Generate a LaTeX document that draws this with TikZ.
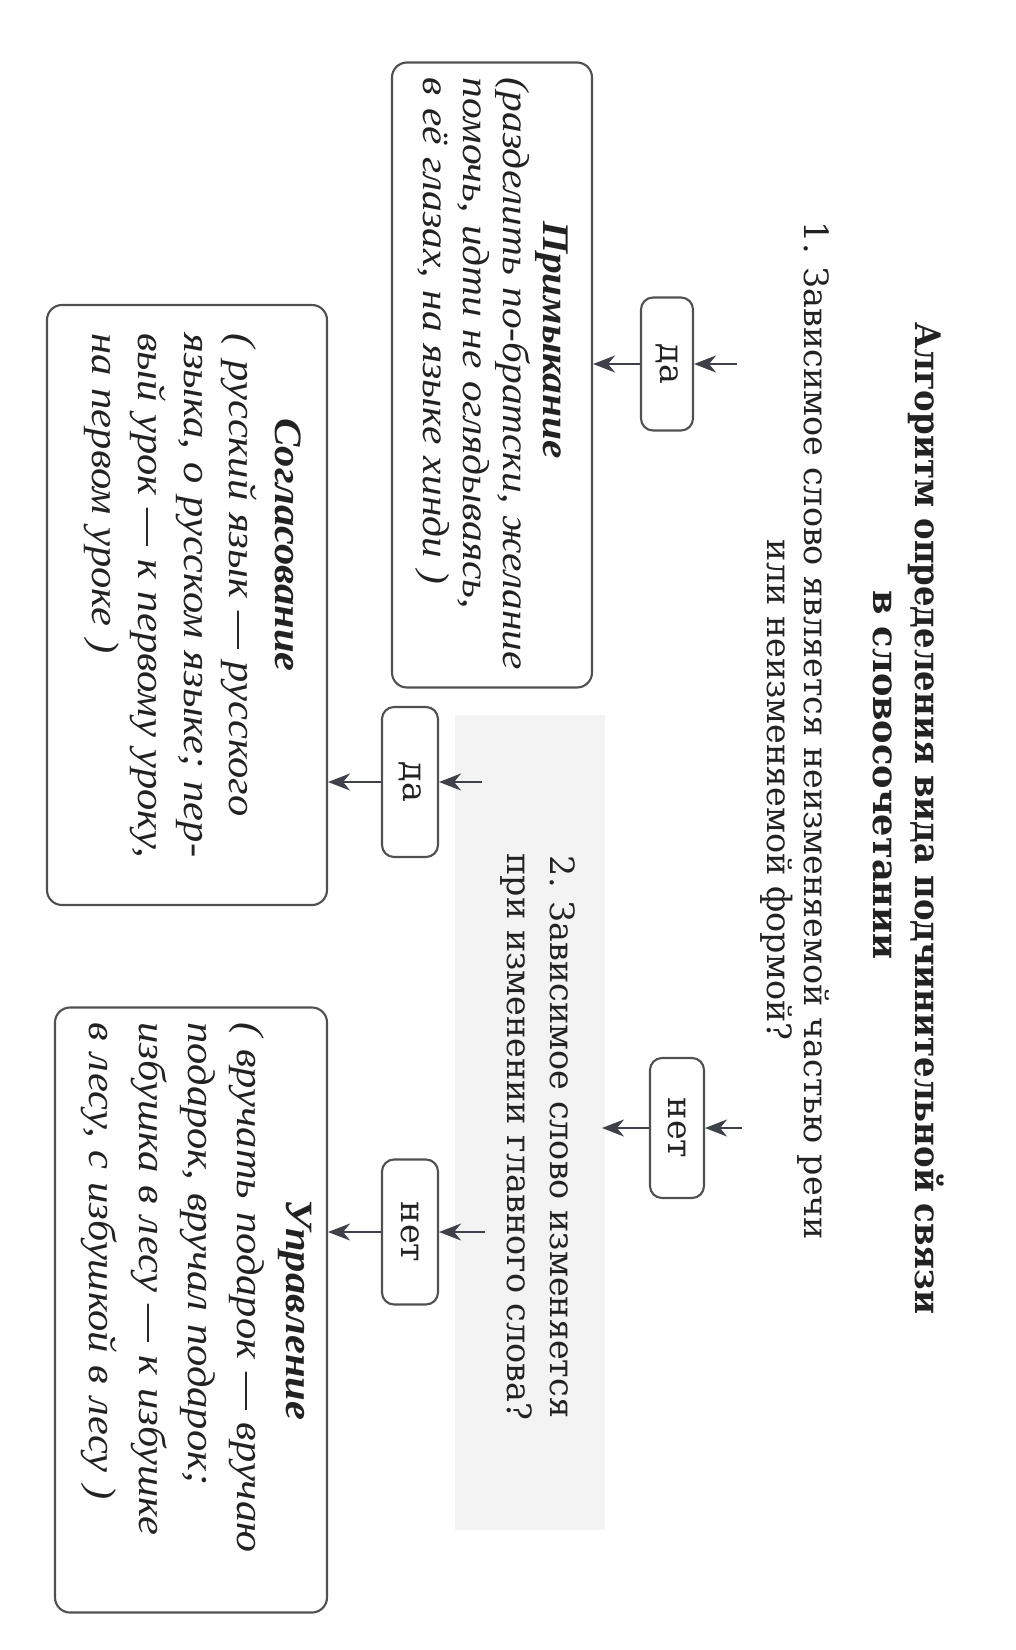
\documentclass[tikz,border=0pt]{standalone}
\usepackage{fontspec}
\setmainfont{DejaVu Serif}
\newfontfamily\ttlfont[FakeStretch=0.92]{DejaVu Serif}
\newfontfamily\exfont[FakeStretch=1.1]{Liberation Serif}
\usetikzlibrary{arrows.meta}
\definecolor{ink}{HTML}{222222}
\definecolor{wire}{HTML}{3E404A}
\definecolor{frame}{HTML}{505050}
\definecolor{haze}{HTML}{F3F3F3}
\newcommand{\exline}[1]{\hbox to\linewidth{#1}}
\newcommand{\exlast}[1]{\hbox to\linewidth{#1\hfil}}
\newcommand{\extitle}[2][0mm]{\hbox to\linewidth{\hfil\bfseries #2\hspace*{#1}\hfil}}
\tikzset{
  ttl/.style={text=ink, font=\fontsize{10}{12}\selectfont\bfseries, inner sep=0pt, rotate=-90},
  qtext/.style={text=ink, font=\fontsize{9.5}{11}\selectfont, inner sep=0pt, rotate=-90},
  ans/.style={draw=frame, line width=0.6pt, rounded corners=1.2mm, rotate=-90, text=ink,
    font=\fontsize{9.5}{11}\selectfont, inner sep=0pt},
  exbox/.style={draw=frame, line width=0.6pt, rounded corners=1.5mm, rotate=-90, text=ink,
    inner sep=0pt},
  arr/.style={draw=wire, line width=0.6pt, -{Stealth[length=2.2mm,width=1.7mm,inset=0.7mm]}},
}

\begin{document}
\begin{tikzpicture}[x=0.1mm, y=-0.1mm]
  \useasboundingbox[fill=white] (0,0) rectangle (1015,1650);
  \fill[haze] (455,715) rectangle (605,1530);

  % title and questions
  \node[ttl, font=\ttlfont\fontsize{10}{12}\selectfont\bfseries] (title1) at (926,818)
    {Алгоритм определения вида подчинительной связи};
  \node[ttl] (title2) at (883,775) {в словосочетании};
  \node[qtext] (q1a) at (813,731) {1. Зависимое слово является неизменяемой частью речи};
  \node[qtext] (q1b) at (777,790) {или неизменяемой формой?};
  \node[qtext] (q2a) at (563,1137) {2. Зависимое слово изменяется};
  \node[qtext] (q2b) at (516,1137) {при изменении главного слова?};

  % answers
  \node[ans, minimum width=13.3mm, minimum height=5.2mm] (da1) at (667,364) {да};
  \node[ans, minimum width=14mm, minimum height=5.4mm] (net1) at (677,1128) {нет};
  \node[ans, minimum width=15mm, minimum height=5.6mm] (da2) at (410,782) {да};
  \node[ans, minimum width=14.5mm, minimum height=5.6mm] (net2) at (410,1232) {нет};

  % kinds of connection
  \node[exbox, minimum width=62.5mm, minimum height=20mm, text width=59.4mm,
    font=\exfont\itshape\fontsize{10.7}{11.4}\selectfont] (prim) at (492,375)
    {\extitle[7mm]{Примыкание}
     \exline{(разделить по-братски, желание}
     \exline{помочь, идти не оглядываясь,}
     \exlast{в её глазах, на языке хинди )}};
  \node[exbox, minimum width=60mm, minimum height=28mm, text width=54.3mm,
    font=\exfont\itshape\fontsize{11}{13}\selectfont] (sogl) at (187,605)
    {\extitle[12mm]{Согласование}
     \exline{( русский язык — русского}
     \exline{языка, о русском языке; пер-}
     \exline{вый урок — к первому уроку,}
     \exlast{на первом уроке )\rule[-2mm]{0pt}{1pt}}};
  \node[exbox, minimum width=60.5mm, minimum height=27.2mm, text width=57.5mm,
    font=\exfont\itshape\fontsize{11}{14}\selectfont] (upr) at (191,1310)
    {\extitle{Управление}
     \exline{( вручать подарок — вручаю}
     \exline{подарок, вручал подарок;}
     \exline{избушка в лесу — к избушке}
     \exline{в лесу, с избушкой в лесу )\rule[-2mm]{0pt}{1pt}}};

  % arrows
  \coordinate (s1) at (737,364);
  \coordinate (s2) at (742,1128);
  \coordinate (e2) at (602,1128);
  \coordinate (s3) at (482,782);
  \coordinate (s4) at (485,1232);
  \draw[arr] (s1) -- (da1);
  \draw[arr] (da1) -- (da1 -| prim.north);
  \draw[arr] (s2) -- (net1);
  \draw[arr] (net1) -- (e2);
  \draw[arr] (s3) -- (da2);
  \draw[arr] (da2) -- (da2 -| sogl.north);
  \draw[arr] (s4) -- (net2);
  \draw[arr] (net2) -- (net2 -| upr.north);
\end{tikzpicture}
\end{document}
